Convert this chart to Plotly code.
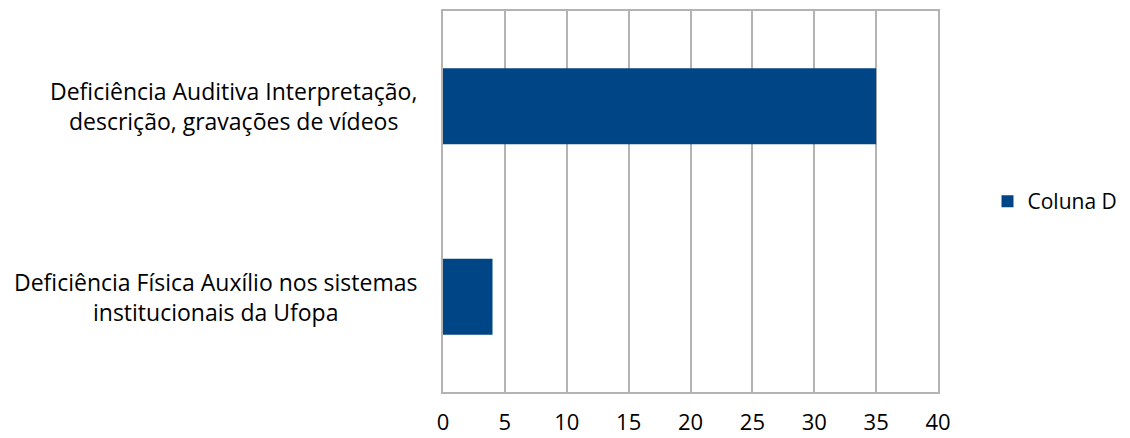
import plotly.graph_objects as go

categories = [
    "Deficiência Auditiva Interpretação,<br>descrição, gravações de vídeos",
    "Deficiência Física Auxílio nos sistemas<br>institucionais da Ufopa",
]
values = [35, 4]
series_name = "Coluna D"
x_ticks = [0, 5, 10, 15, 20, 25, 30, 35, 40]

FONT = "Open Sans, sans-serif"
fig = go.Figure()
fig.add_trace(go.Bar(
    x=values, y=categories, orientation="h", name=series_name,
    marker=dict(color="#004586", line=dict(width=0)), width=0.4,
    showlegend=True,
))

for c in categories:
    fig.add_annotation(
        x=0, xref="paper", y=c, yref="y", text=c, showarrow=False,
        xanchor="right", yanchor="middle", align="center", xshift=-24,
        font=dict(family=FONT, size=23, color="#000000"),
    )

fig.update_layout(
    width=1122, height=430,
    margin=dict(l=435, r=192, t=3, b=46, autoexpand=False),
    paper_bgcolor="white", plot_bgcolor="white",
    font=dict(family=FONT, size=22, color="#000000"),
    showlegend=True,
    legend=dict(x=1.10, y=0.5, xanchor="left", yanchor="middle",
                font=dict(family=FONT, size=21, color="#000000"),
                itemwidth=30, bgcolor="rgba(0,0,0,0)", borderwidth=0),
    xaxis=dict(range=[0, 40], tickvals=x_ticks, showgrid=True, gridcolor="#b3b3b3",
               gridwidth=1.5, zeroline=False, showline=True, linecolor="#b3b3b3",
               linewidth=2, mirror=True, ticks="", tickfont=dict(size=22),
               ticklabelstandoff=10),
    yaxis=dict(autorange="reversed", showticklabels=False, showgrid=False,
               zeroline=False, showline=True, linecolor="#b3b3b3", linewidth=2,
               mirror=True, ticks=""),
)
fig.write_html("out.html")
